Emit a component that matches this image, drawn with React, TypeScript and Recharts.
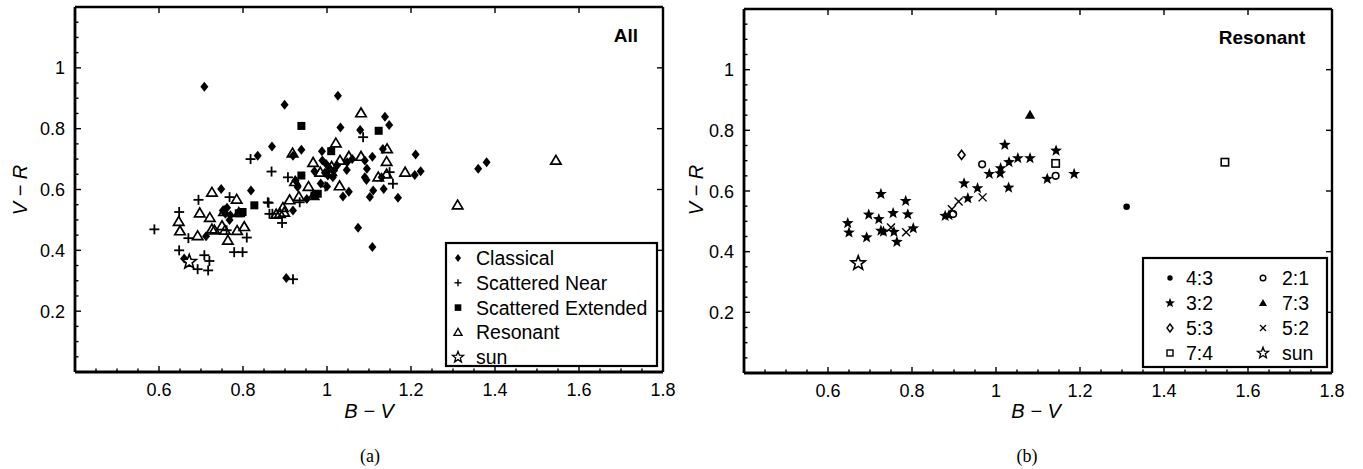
import React from 'react';
import { ScatterChart, Scatter, XAxis, YAxis, ReferenceLine } from 'recharts';

type P = { bv: number; vr: number };

// ---------- Data (B-V, V-R) ----------
const classical: P[] = [
  { bv: 0.708, vr: 0.938 }, { bv: 0.899, vr: 0.879 }, { bv: 1.026, vr: 0.908 }, { bv: 1.032, vr: 0.804 },
  { bv: 0.869, vr: 0.741 }, { bv: 0.835, vr: 0.711 }, { bv: 0.919, vr: 0.711 }, { bv: 0.939, vr: 0.731 },
  { bv: 0.988, vr: 0.726 }, { bv: 1.138, vr: 0.839 }, { bv: 1.148, vr: 0.812 }, { bv: 1.079, vr: 0.796 },
  { bv: 1.133, vr: 0.733 }, { bv: 1.211, vr: 0.715 }, { bv: 1.108, vr: 0.708 }, { bv: 1.09, vr: 0.695 },
  { bv: 1.048, vr: 0.69 }, { bv: 0.998, vr: 0.684 }, { bv: 1.006, vr: 0.668 }, { bv: 1.014, vr: 0.64 },
  { bv: 1.024, vr: 0.679 }, { bv: 1.047, vr: 0.664 }, { bv: 1.095, vr: 0.668 }, { bv: 1.09, vr: 0.64 },
  { bv: 1.094, vr: 0.631 }, { bv: 1.13, vr: 0.64 }, { bv: 1.135, vr: 0.602 }, { bv: 1.209, vr: 0.648 },
  { bv: 1.223, vr: 0.66 }, { bv: 1.11, vr: 0.597 }, { bv: 1.102, vr: 0.575 }, { bv: 1.169, vr: 0.573 },
  { bv: 1.052, vr: 0.593 }, { bv: 1.038, vr: 0.577 }, { bv: 0.925, vr: 0.63 }, { bv: 0.93, vr: 0.608 },
  { bv: 0.952, vr: 0.569 }, { bv: 0.819, vr: 0.597 }, { bv: 0.919, vr: 0.531 }, { bv: 0.748, vr: 0.602 },
  { bv: 0.752, vr: 0.531 }, { bv: 0.758, vr: 0.52 }, { bv: 0.768, vr: 0.5 }, { bv: 0.712, vr: 0.446 },
  { bv: 0.66, vr: 0.373 }, { bv: 0.903, vr: 0.309 }, { bv: 1.074, vr: 0.474 }, { bv: 1.108, vr: 0.411 },
  { bv: 1.36, vr: 0.668 }, { bv: 1.38, vr: 0.69 }, { bv: 0.989, vr: 0.695 }, { bv: 1.002, vr: 0.646 },
  { bv: 0.97, vr: 0.66 }, { bv: 0.985, vr: 0.62 }, { bv: 1.0, vr: 0.61 }, { bv: 1.06, vr: 0.7 },
  { bv: 1.015, vr: 0.66 }, { bv: 0.995, vr: 0.655 }, { bv: 0.762, vr: 0.54 }, { bv: 0.77, vr: 0.515 },
];

const scatteredNear: P[] = [
  { bv: 0.818, vr: 0.7 }, { bv: 0.868, vr: 0.659 }, { bv: 0.907, vr: 0.64 }, { bv: 0.694, vr: 0.566 },
  { bv: 1.086, vr: 0.772 }, { bv: 1.149, vr: 0.657 }, { bv: 1.157, vr: 0.619 }, { bv: 0.996, vr: 0.61 },
  { bv: 0.935, vr: 0.558 }, { bv: 0.859, vr: 0.558 }, { bv: 0.863, vr: 0.52 }, { bv: 0.589, vr: 0.469 },
  { bv: 0.648, vr: 0.526 }, { bv: 0.768, vr: 0.575 }, { bv: 0.861, vr: 0.556 }, { bv: 0.893, vr: 0.49 },
  { bv: 0.67, vr: 0.44 }, { bv: 0.809, vr: 0.442 }, { bv: 0.648, vr: 0.4 }, { bv: 0.708, vr: 0.384 },
  { bv: 0.72, vr: 0.365 }, { bv: 0.692, vr: 0.338 }, { bv: 0.717, vr: 0.334 }, { bv: 0.779, vr: 0.394 },
  { bv: 0.799, vr: 0.394 }, { bv: 0.919, vr: 0.305 }, { bv: 0.761, vr: 0.466 }, { bv: 0.87, vr: 0.52 },
];

const scatteredExtended: P[] = [
  { bv: 0.939, vr: 0.809 }, { bv: 1.01, vr: 0.726 }, { bv: 0.939, vr: 0.646 }, { bv: 1.123, vr: 0.793 },
  { bv: 0.978, vr: 0.586 }, { bv: 0.97, vr: 0.58 }, { bv: 0.827, vr: 0.548 }, { bv: 0.799, vr: 0.526 },
  { bv: 0.79, vr: 0.522 },
];

const sun: P[] = [{ bv: 0.672, vr: 0.362 }];

// Resonant sub-classes
const res43: P[] = [{ bv: 1.311, vr: 0.548 }];
const res32: P[] = [
  { bv: 0.726, vr: 0.59 }, { bv: 0.785, vr: 0.567 }, { bv: 0.697, vr: 0.522 }, { bv: 0.721, vr: 0.507 },
  { bv: 0.755, vr: 0.527 }, { bv: 0.79, vr: 0.523 }, { bv: 0.647, vr: 0.494 }, { bv: 0.65, vr: 0.463 },
  { bv: 0.692, vr: 0.447 }, { bv: 0.726, vr: 0.469 }, { bv: 0.732, vr: 0.466 }, { bv: 0.757, vr: 0.465 },
  { bv: 0.764, vr: 0.432 }, { bv: 0.803, vr: 0.477 }, { bv: 0.879, vr: 0.518 }, { bv: 0.888, vr: 0.52 },
  { bv: 0.924, vr: 0.625 }, { bv: 0.933, vr: 0.576 }, { bv: 0.956, vr: 0.609 }, { bv: 0.984, vr: 0.656 },
  { bv: 1.021, vr: 0.752 }, { bv: 1.031, vr: 0.695 }, { bv: 1.052, vr: 0.708 }, { bv: 1.081, vr: 0.708 },
  { bv: 1.011, vr: 0.675 }, { bv: 1.01, vr: 0.658 }, { bv: 1.03, vr: 0.611 }, { bv: 1.143, vr: 0.733 },
  { bv: 1.122, vr: 0.64 }, { bv: 1.186, vr: 0.656 },
];
const res53: P[] = [{ bv: 0.918, vr: 0.719 }];
const res74: P[] = [{ bv: 1.142, vr: 0.691 }, { bv: 1.545, vr: 0.695 }];
const res21: P[] = [{ bv: 0.898, vr: 0.524 }, { bv: 0.967, vr: 0.688 }, { bv: 1.142, vr: 0.65 }];
const res73: P[] = [{ bv: 1.081, vr: 0.851 }];
const res52: P[] = [
  { bv: 0.75, vr: 0.48 }, { bv: 0.786, vr: 0.464 }, { bv: 0.895, vr: 0.54 }, { bv: 0.911, vr: 0.565 },
  { bv: 0.968, vr: 0.579 },
];
const resonantAll: P[] = [...res43, ...res32, ...res53, ...res74, ...res21, ...res73, ...res52];

// ---------- Ticks ----------
const xMajor = [0.6, 0.8, 1, 1.2, 1.4, 1.6, 1.8];
const yMajor = [0.2, 0.4, 0.6, 0.8, 1];
const xTicks = Array.from({ length: 29 }, (_, i) => Math.round((0.4 + i * 0.05) * 100) / 100);
const yTicks = Array.from({ length: 25 }, (_, i) => Math.round(i * 0.05 * 100) / 100);

const FONT = 'Liberation Sans, Arial, Helvetica, sans-serif';
const fmt = (v: number) => String(Number(v.toFixed(2)));
const isIn = (arr: number[], v: number) => arr.some((m) => Math.abs(m - v) < 1e-6);

// ---------- Shapes ----------
const starPath = (cx: number, cy: number, R: number) => {
  const r = R * 0.42;
  let d = '';
  for (let i = 0; i < 10; i++) {
    const rad = i % 2 === 0 ? R : r;
    const a = -Math.PI / 2 + (i * Math.PI) / 5;
    d += (i === 0 ? 'M' : 'L') + (cx + rad * Math.cos(a)).toFixed(2) + ',' + (cy + rad * Math.sin(a)).toFixed(2);
  }
  return d + 'Z';
};

const DiamondFilled = (p: any) => (
  <path d={`M${p.cx},${p.cy - 5}L${p.cx + 4},${p.cy}L${p.cx},${p.cy + 5}L${p.cx - 4},${p.cy}Z`} fill="#000" />
);
const PlusShape = (p: any) => (
  <g stroke="#000" strokeWidth={1.8}>
    <line x1={p.cx - 5} x2={p.cx + 5} y1={p.cy} y2={p.cy} />
    <line x1={p.cx} x2={p.cx} y1={p.cy - 5} y2={p.cy + 5} />
  </g>
);
const SquareFilled = (p: any) => <rect x={p.cx - 4} y={p.cy - 4} width={8} height={8} fill="#000" />;
const TriangleOpen = (p: any) => (
  <path d={`M${p.cx},${p.cy - 5.2}L${p.cx + 5.2},${p.cy + 3.6}L${p.cx - 5.2},${p.cy + 3.6}Z`} fill="none" stroke="#000" strokeWidth={1.7} />
);
const SunStar = (p: any) => <path d={starPath(p.cx, p.cy, 7.5)} fill="#fff" stroke="#000" strokeWidth={1.6} />;
const StarFilled = (p: any) => <path d={starPath(p.cx, p.cy, 6.2)} fill="#000" />;
const DotFilled = (p: any) => <circle cx={p.cx} cy={p.cy} r={3.3} fill="#000" />;
const CircleOpen = (p: any) => <circle cx={p.cx} cy={p.cy} r={3.3} fill="#fff" stroke="#000" strokeWidth={1.6} />;
const DiamondOpen = (p: any) => (
  <path d={`M${p.cx},${p.cy - 4.6}L${p.cx + 3.5},${p.cy}L${p.cx},${p.cy + 4.6}L${p.cx - 3.5},${p.cy}Z`} fill="#fff" stroke="#000" strokeWidth={1.6} />
);
const SquareOpen = (p: any) => (
  <rect x={p.cx - 3.7} y={p.cy - 3.7} width={7.4} height={7.4} fill="#fff" stroke="#000" strokeWidth={1.6} />
);
const TriangleFilled = (p: any) => (
  <path d={`M${p.cx},${p.cy - 5.2}L${p.cx + 5.2},${p.cy + 3.8}L${p.cx - 5.2},${p.cy + 3.8}Z`} fill="#000" />
);
const XShape = (p: any) => (
  <g stroke="#000" strokeWidth={1.4}>
    <line x1={p.cx - 4} x2={p.cx + 4} y1={p.cy - 4} y2={p.cy + 4} />
    <line x1={p.cx - 4} x2={p.cx + 4} y1={p.cy + 4} y2={p.cy - 4} />
  </g>
);

// ---------- Tick renderers ----------
const makeXTick = (top: number, bottom: number) => (props: any) => {
  const { x, payload } = props;
  const v = payload.value as number;
  const major = isIn(xMajor, v);
  return (
    <g>
      <line x1={x} x2={x} y1={bottom} y2={bottom - (major ? 6 : 3.5)} stroke="#000" strokeWidth={1.4} />
      {major && <line x1={x} x2={x} y1={top} y2={top + 6} stroke="#000" strokeWidth={1.4} />}
      {major && (
        <text x={x} y={bottom + 24} textAnchor="middle" fontSize={18} fontFamily={FONT} fill="#000">
          {fmt(v)}
        </text>
      )}
    </g>
  );
};
const makeYTick = (left: number, right: number) => (props: any) => {
  const { y, payload } = props;
  const v = payload.value as number;
  const major = isIn(yMajor, v);
  return (
    <g>
      <line x1={left} x2={left + (major ? 6 : 3.5)} y1={y} y2={y} stroke="#000" strokeWidth={1.4} />
      {major && <line x1={right} x2={right - 6} y1={y} y2={y} stroke="#000" strokeWidth={1.4} />}
      {major && (
        <text x={left - 10} y={y + 6.5} textAnchor="end" fontSize={18} fontFamily={FONT} fill="#000">
          {fmt(v)}
        </text>
      )}
    </g>
  );
};

type PanelProps = {
  left: number;
  width: number;
  margin: { top: number; right: number; bottom: number; left: number };
  plot: { l: number; r: number; t: number; b: number };
  children: React.ReactNode;
};

const Panel = ({ left, width, margin, plot, children }: PanelProps) => (
  <div style={{ position: 'absolute', left, top: 0 }}>
    <ScatterChart width={width} height={469} margin={margin}>
      <XAxis
        type="number"
        dataKey="bv"
        domain={[0.4, 1.8]}
        ticks={xTicks}
        interval={0}
        tickSize={0}
        tickMargin={0}
        height={30}
        allowDataOverflow
        axisLine={{ stroke: '#000', strokeWidth: 2.8 }}
        tickLine={false}
        tick={makeXTick(plot.t, plot.b)}
      />
      <YAxis
        type="number"
        dataKey="vr"
        domain={[0, 1.2]}
        ticks={yTicks}
        interval={0}
        tickSize={0}
        tickMargin={0}
        width={40}
        allowDataOverflow
        axisLine={{ stroke: '#000', strokeWidth: 2.8 }}
        tickLine={false}
        tick={makeYTick(plot.l - left, plot.r - left)}
      />
      <ReferenceLine y={1.2} stroke="#000" strokeWidth={2.4} />
      <ReferenceLine x={1.8} stroke="#000" strokeWidth={2.4} />
      {children}
    </ScatterChart>
  </div>
);

const LeftLegend = () => {
  const items: [string, (p: any) => React.ReactElement][] = [
    ['Classical', (p) => <path d={`M${p.cx},${p.cy - 4}L${p.cx + 3},${p.cy}L${p.cx},${p.cy + 4}L${p.cx - 3},${p.cy}Z`} fill="#000" />],
    ['Scattered Near', (p) => (
      <g stroke="#000" strokeWidth={1.4}>
        <line x1={p.cx - 3.5} x2={p.cx + 3.5} y1={p.cy} y2={p.cy} />
        <line x1={p.cx} x2={p.cx} y1={p.cy - 3.5} y2={p.cy + 3.5} />
      </g>
    )],
    ['Scattered Extended', (p) => <rect x={p.cx - 3.3} y={p.cy - 3.3} width={6.6} height={6.6} fill="#000" />],
    ['Resonant', (p) => <path d={`M${p.cx},${p.cy - 4}L${p.cx + 4},${p.cy + 3}L${p.cx - 4},${p.cy + 3}Z`} fill="none" stroke="#000" strokeWidth={1.4} />],
    ['sun', (p) => <path d={starPath(p.cx, p.cy, 5.8)} fill="#fff" stroke="#000" strokeWidth={1.3} />],
  ];
  return (
    <g>
      <rect x={446} y={243} width={211} height={123} fill="#fff" stroke="#000" strokeWidth={2.2} />
      {items.map(([label, Sym], i) => {
        const cy = 258 + i * 24.8;
        return (
          <g key={label}>
            {Sym({ cx: 458, cy })}
            <text x={476} y={cy + 7} fontSize={19.5} fontFamily={FONT} fill="#000">
              {label}
            </text>
          </g>
        );
      })}
    </g>
  );
};

const RightLegend = () => {
  const items: [string, (p: any) => React.ReactElement][] = [
    ['4:3', (p) => <circle cx={p.cx} cy={p.cy} r={2.7} fill="#000" />],
    ['2:1', (p) => <circle cx={p.cx} cy={p.cy} r={2.8} fill="#fff" stroke="#000" strokeWidth={1.4} />],
    ['3:2', (p) => <path d={starPath(p.cx, p.cy, 5.2)} fill="#000" />],
    ['7:3', (p) => <path d={`M${p.cx},${p.cy - 4}L${p.cx + 4},${p.cy + 3}L${p.cx - 4},${p.cy + 3}Z`} fill="#000" />],
    ['5:3', (p) => <path d={`M${p.cx},${p.cy - 4}L${p.cx + 3},${p.cy}L${p.cx},${p.cy + 4}L${p.cx - 3},${p.cy}Z`} fill="#fff" stroke="#000" strokeWidth={1.4} />],
    ['5:2', (p) => (
      <g stroke="#000" strokeWidth={1.3}>
        <line x1={p.cx - 3} x2={p.cx + 3} y1={p.cy - 3} y2={p.cy + 3} />
        <line x1={p.cx - 3} x2={p.cx + 3} y1={p.cy + 3} y2={p.cy - 3} />
      </g>
    )],
    ['7:4', (p) => <rect x={p.cx - 3} y={p.cy - 3} width={6} height={6} fill="#fff" stroke="#000" strokeWidth={1.4} />],
    ['sun', (p) => <path d={starPath(p.cx, p.cy, 5.8)} fill="#fff" stroke="#000" strokeWidth={1.3} />],
  ];
  return (
    <g>
      <rect x={1143} y={258} width={184} height={109} fill="#fff" stroke="#000" strokeWidth={2.2} />
      {items.map(([label, Sym], i) => {
        const col = i % 2;
        const row = Math.floor(i / 2);
        const cy = 278 + row * 25;
        const sx = col === 0 ? 1170 : 1263;
        const tx = col === 0 ? 1186 : 1282;
        return (
          <g key={label + i}>
            {Sym({ cx: sx, cy })}
            <text x={tx} y={cy + 7} fontSize={19.5} fontFamily={FONT} fill="#000">
              {label}
            </text>
          </g>
        );
      })}
    </g>
  );
};

export default function App() {
  const lp = { l: 75, r: 663, t: 7, b: 372 };
  const rp = { l: 744, r: 1332, t: 9, b: 373 };
  return (
    <div style={{ position: 'absolute', left: 0, top: 0, width: 1363, height: 469, background: '#fff', fontFamily: FONT }}>
      <Panel left={0} width={680} margin={{ top: 7, right: 17, bottom: 67, left: 35 }} plot={lp}>
        <Scatter name="Classical" data={classical} shape={DiamondFilled} isAnimationActive={false} />
        <Scatter name="Scattered Near" data={scatteredNear} shape={PlusShape} isAnimationActive={false} />
        <Scatter name="Scattered Extended" data={scatteredExtended} shape={SquareFilled} isAnimationActive={false} />
        <Scatter name="Resonant" data={resonantAll} shape={TriangleOpen} isAnimationActive={false} />
        <Scatter name="sun" data={sun} shape={SunStar} isAnimationActive={false} />
      </Panel>
      <Panel left={690} width={660} margin={{ top: 9, right: 18, bottom: 66, left: 14 }} plot={rp}>
        <Scatter name="4:3" data={res43} shape={DotFilled} isAnimationActive={false} />
        <Scatter name="3:2" data={res32} shape={StarFilled} isAnimationActive={false} />
        <Scatter name="5:3" data={res53} shape={DiamondOpen} isAnimationActive={false} />
        <Scatter name="7:4" data={res74} shape={SquareOpen} isAnimationActive={false} />
        <Scatter name="2:1" data={res21} shape={CircleOpen} isAnimationActive={false} />
        <Scatter name="7:3" data={res73} shape={TriangleFilled} isAnimationActive={false} />
        <Scatter name="5:2" data={res52} shape={XShape} isAnimationActive={false} />
        <Scatter name="sun" data={sun} shape={SunStar} isAnimationActive={false} />
      </Panel>
      <svg width={1363} height={469} style={{ position: 'absolute', left: 0, top: 0, pointerEvents: 'none' }}>
        <text x={626} y={42} textAnchor="middle" fontSize={19} fontWeight="bold" fontFamily={FONT}>All</text>
        <text x={1262} y={44} textAnchor="middle" fontSize={19} fontWeight="bold" fontFamily={FONT}>Resonant</text>
        <text x={369} y={418} textAnchor="middle" fontSize={20} fontStyle="italic" fontFamily={FONT}>B − V</text>
        <text x={1036} y={418} textAnchor="middle" fontSize={20} fontStyle="italic" fontFamily={FONT}>B − V</text>
        <text x={27} y={190} textAnchor="middle" fontSize={20} fontStyle="italic" fontFamily={FONT} transform="rotate(-90 27 190)">V − R</text>
        <text x={703} y={190} textAnchor="middle" fontSize={20} fontStyle="italic" fontFamily={FONT} transform="rotate(-90 703 190)">V − R</text>
        <text x={370} y={462} textAnchor="middle" fontSize={18} fontFamily="Liberation Serif, Times New Roman, serif">(a)</text>
        <text x={1027} y={462} textAnchor="middle" fontSize={18} fontFamily="Liberation Serif, Times New Roman, serif">(b)</text>
        <LeftLegend />
        <RightLegend />
      </svg>
    </div>
  );
}
